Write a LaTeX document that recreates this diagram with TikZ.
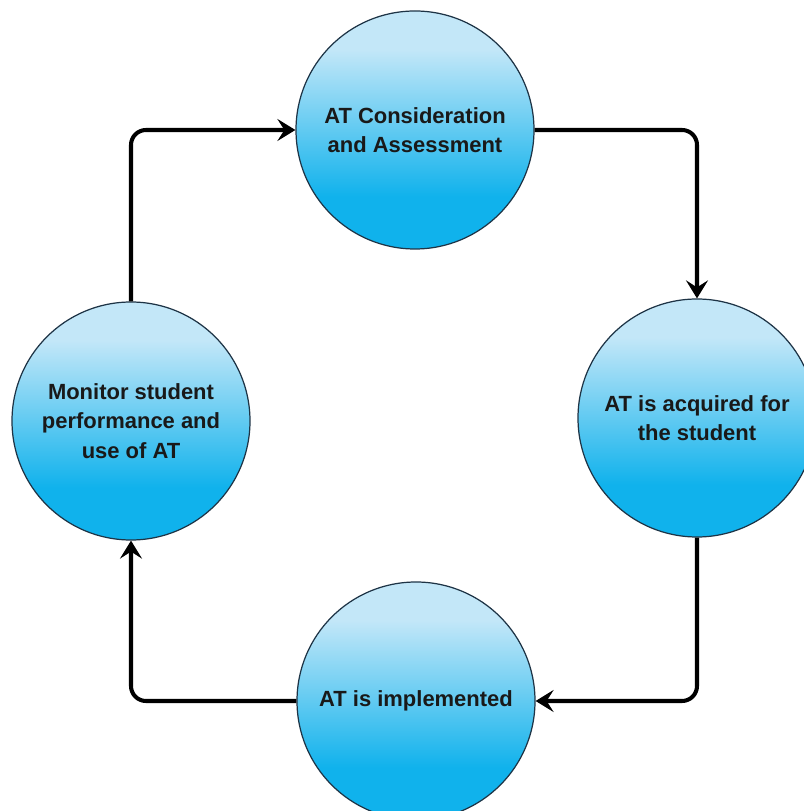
\documentclass[tikz,border=0pt]{standalone}
\usepackage{fontspec}
\setmainfont{Liberation Sans}
\usetikzlibrary{arrows.meta}

\definecolor{atpale}{HTML}{C3E7F8}
\definecolor{atdeep}{HTML}{10B2EC}
\definecolor{atline}{HTML}{1E3446}
% the node fills the middle 25bp..75bp: deep over the lower quarter, pale on top
\pgfdeclareverticalshading{atball}{100bp}{color(0bp)=(atdeep); color(36bp)=(atdeep); color(67bp)=(atpale); color(100bp)=(atpale)}

\begin{document}
\begin{tikzpicture}[>={Stealth[length=0.36cm,width=0.44cm,inset=0.14cm]},
 font=\fontsize{12.5}{16.8}\selectfont\bfseries,
 stage/.style={circle,draw=atline,line width=0.7pt,shading=atball,minimum size=4.76cm,inner sep=2pt,align=center,text=black!90},
 flow/.style={->,line width=2.3pt,rounded corners=0.3cm}]
\useasboundingbox (0,0) rectangle (16.08,16.22);
\node[stage] (assess) at (8.30,13.62) {AT Consideration\\and Assessment};
\node[stage] (acquire) at (13.94,7.86) {AT is acquired for\\the student};
\node[stage] (implement) at (8.32,2.20) {AT is implemented};
\node[stage] (monitor) at (2.62,7.80) {Monitor student\\performance and\\use of AT};
% the cycle, clockwise
\draw[flow] (monitor.north) |- (assess.west);
\draw[flow] (assess.east) -| (acquire.north);
\draw[flow] (acquire.south) |- (implement.east);
\draw[flow] (implement.west) -| (monitor.south);
\end{tikzpicture}
\end{document}
